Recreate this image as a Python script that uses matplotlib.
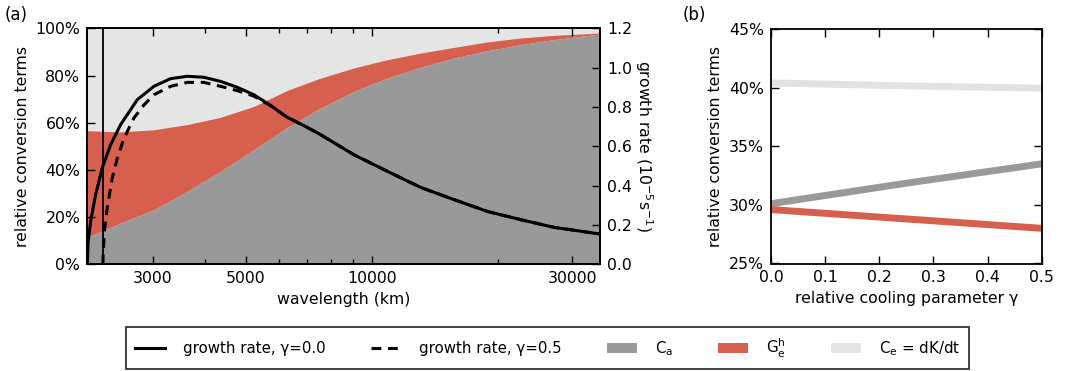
import matplotlib
matplotlib.use("Agg")
import matplotlib.pyplot as plt
from matplotlib.lines import Line2D
from matplotlib.patches import Patch
from matplotlib.ticker import FixedLocator, NullFormatter, FuncFormatter

plt.rcParams['font.family'] = ['DejaVu Sans']
plt.rcParams['mathtext.default'] = 'regular'
plt.rcParams['font.size'] = 11.3

# ---------------- data: panel (a) ----------------
wl_fill = [2091, 2511, 3015, 3622, 4350, 5225, 6276, 7538, 9052, 10872,
           13057, 15680, 18830, 22620, 27160, 34990]
ca_top = [11.4, 17.5, 23.1, 30.9, 39.4, 48.6, 58.0, 66.2, 73.3, 78.9,
          83.5, 87.4, 90.5, 93.1, 95.2, 97.6]
ge_top = [56.6, 56.1, 57.0, 59.2, 62.3, 66.9, 73.7, 78.9, 83.2, 86.7,
          89.5, 91.9, 94.2, 95.9, 97.0, 98.0]

wl_g0 = [2091, 2100, 2130, 2189, 2270, 2377, 2511, 2752, 3015, 3305, 3622,
         3969, 4350, 4768, 5225, 5725, 6276, 6878, 7538, 9052, 10872, 13057,
         15680, 18830, 22620, 27160, 34990]
growth_g0 = [0.0, 0.11, 0.22, 0.354, 0.49, 0.608, 0.71, 0.837, 0.905, 0.944,
             0.956, 0.951, 0.93, 0.90, 0.862, 0.808, 0.747, 0.705, 0.659,
             0.557, 0.473, 0.391, 0.329, 0.269, 0.227, 0.188, 0.154]

wl_g5 = [2279, 2281, 2290, 2300, 2334, 2399, 2466, 2557, 2702, 2854, 3015,
         3305, 3622, 3969, 4350, 4768, 5225, 5725, 6276, 6878, 7538, 9052,
         10872, 13057, 15680, 18830, 22620, 27160, 34990]
growth_g5 = [0.0, 0.06, 0.12, 0.18, 0.29, 0.44, 0.54, 0.64, 0.744, 0.81,
             0.862, 0.905, 0.925, 0.925, 0.905, 0.883, 0.855, 0.806, 0.747,
             0.705, 0.659, 0.557, 0.473, 0.391, 0.329, 0.269, 0.227, 0.188,
             0.154]

wl_cutoff = 2280
wl_ticks = [3000, 5000, 10000, 30000]
wl_minor = [4000, 6000, 7000, 8000, 9000, 20000]

# ---------------- data: panel (b) ----------------
gamma = [0.0, 0.25, 0.5]
ce_b = [40.4, 40.15, 39.95]
ca_b = [30.1, 31.85, 33.5]
ge_b = [29.6, 28.8, 28.0]

# ---------------- colours ----------------
c_ca = '#999999'
c_ge = '#d6604d'
c_ce = '#e5e5e5'
c_ce_line = '#e2e2e2'

W, H = 1065, 371
fig = plt.figure(figsize=(W / 100, H / 100), dpi=100)

def frac(x0, y0, x1, y1):
    return [x0 / W, 1 - y1 / H, (x1 - x0) / W, (y1 - y0) / H]

axa = fig.add_axes(frac(87.3, 28.3, 600, 264.3))
axb = fig.add_axes(frac(771, 29, 1041.7, 263.5))

# panel (a)
axa.set_xscale('log')
axa.fill_between(wl_fill, 0, 100, color=c_ce, lw=0)
axa.fill_between(wl_fill, ca_top, ge_top, color=c_ge, lw=0)
axa.fill_between(wl_fill, 0, ca_top, color=c_ca, lw=0)
axa.set_ylim(0, 100)
axa.set_yticks([0, 20, 40, 60, 80, 100])
axa.yaxis.set_major_formatter(FuncFormatter(lambda v, p: '%d%%' % v))
axa.set_xlabel('wavelength (km)', labelpad=4)
axa.set_ylabel('relative conversion terms', labelpad=4)

axr = axa.twinx()
axr.plot(wl_g0, growth_g0, color='black', lw=2.2, solid_capstyle='butt')
axr.plot(wl_g5, growth_g5, color='black', lw=2.2, dashes=(3.2, 2.2))
axr.axvline(wl_cutoff, color='black', lw=1.3)
axr.set_ylim(0, 1.2)
axr.set_yticks([0.0, 0.2, 0.4, 0.6, 0.8, 1.0, 1.2])
axr.yaxis.set_major_formatter(FuncFormatter(lambda v, p: '%.1f' % v))
axr.set_ylabel('growth rate (10$^{-5}$s$^{-1}$)', rotation=270, labelpad=16)

# x axis ticks (after twinx so they are not reset)
axa.set_xlim(wl_fill[0], wl_fill[-1])
axa.xaxis.set_major_locator(FixedLocator(wl_ticks))
axa.xaxis.set_major_formatter(FuncFormatter(lambda v, p: '%d' % v))
axa.xaxis.set_minor_locator(FixedLocator(wl_minor))
axa.xaxis.set_minor_formatter(NullFormatter())
axa.yaxis.set_minor_locator(FixedLocator([]))

axa.tick_params(which='both', direction='in', top=True, bottom=True,
                left=True, right=False, width=1.0)
axa.tick_params(which='major', length=6, pad=5)
axa.tick_params(which='minor', length=3.5)
axr.tick_params(axis='y', which='both', direction='in', right=True,
                left=False, width=1.0, length=6, pad=5)
axr.yaxis.set_minor_locator(FixedLocator([]))
for ax in (axa, axr, axb):
    for s in ax.spines.values():
        s.set_linewidth(1.3)

# panel (b)
axb.plot(gamma, ce_b, color=c_ce_line, lw=5, solid_capstyle='butt')
axb.plot(gamma, ca_b, color=c_ca, lw=5, solid_capstyle='butt')
axb.plot(gamma, ge_b, color=c_ge, lw=5, solid_capstyle='butt')
axb.set_xlim(0, 0.5)
axb.set_ylim(25, 45)
axb.set_xticks([0.0, 0.1, 0.2, 0.3, 0.4, 0.5])
axb.xaxis.set_major_formatter(FuncFormatter(lambda v, p: '%.1f' % v))
axb.set_yticks([25, 30, 35, 40, 45])
axb.yaxis.set_major_formatter(FuncFormatter(lambda v, p: '%d%%' % v))
axb.tick_params(which='both', direction='in', top=True, right=True,
                width=1.0, length=6, pad=5)
axb.set_xlabel('relative cooling parameter γ', labelpad=4)
axb.set_ylabel('relative conversion terms', labelpad=4)

fig.text(0.004, 0.985, '(a)', ha='left', va='top', fontsize=12)
fig.text(0.641, 0.985, '(b)', ha='left', va='top', fontsize=12)

handles = [
    Line2D([], [], color='black', lw=2.2),
    Line2D([], [], color='black', lw=2.2, dashes=(3.2, 2.2)),
    Patch(facecolor=c_ca, edgecolor='none'),
    Patch(facecolor=c_ge, edgecolor='none'),
    Patch(facecolor=c_ce, edgecolor='none'),
]
labels = ['growth rate, γ=0.0', 'growth rate, γ=0.5', 'C$_a$',
          'G$_e^h$', 'C$_e$ = dK/dt']
leg = fig.legend(handles, labels, loc='center', ncol=5,
                 bbox_to_anchor=(547.5 / W, 1 - 348 / H),
                 frameon=True, fancybox=False, edgecolor='black',
                 handlelength=2.0, handletextpad=1.2, columnspacing=3.0,
                 borderpad=0.6, fontsize=10.8)
leg.get_frame().set_linewidth(1.3)

fig.savefig('out.png', dpi=100)
